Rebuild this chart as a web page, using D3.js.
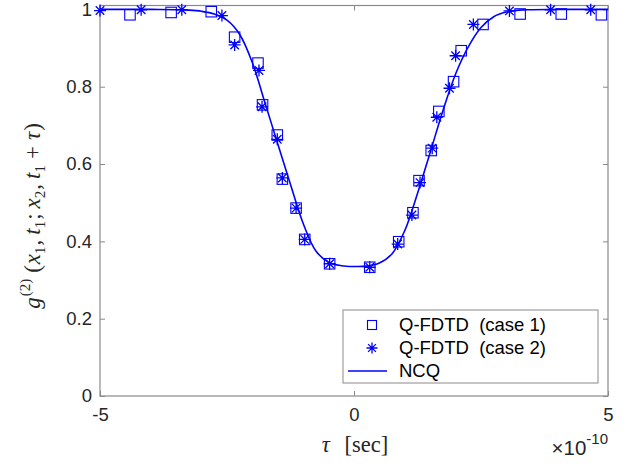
<!DOCTYPE html>
<html><head><meta charset="utf-8">
<script src="https://cdn.jsdelivr.net/npm/d3@7"></script>
<style>body{margin:0;background:#fff} svg{display:block}</style>
</head><body><svg id="c" width="638" height="470"></svg>
<script>
// ---- data (tau in units of 1e-10 s) ----
const case1Tau = [-4.41,-3.60,-2.81,-2.35,-1.89,-1.80,-1.51,-1.41,-1.14,-0.97,-0.48,0.31,0.88,1.16,1.28,1.52,1.67,1.96,2.11,2.54,3.27,4.08,4.87];
const case1G2  = [0.986,0.992,0.994,0.928,0.861,0.753,0.675,0.561,0.486,0.405,0.342,0.333,0.399,0.474,0.557,0.635,0.736,0.813,0.893,0.961,0.988,0.988,0.986];
const case2Tau = [-5.00,-4.19,-3.39,-2.60,-2.35,-1.87,-1.81,-1.51,-1.41,-1.14,-0.97,-0.48,0.31,0.86,1.14,1.30,1.54,1.63,1.88,2.00,2.35,3.06,3.87,4.66];
const case2G2  = [0.997,0.999,0.999,0.984,0.908,0.842,0.748,0.664,0.564,0.486,0.405,0.342,0.333,0.393,0.468,0.552,0.641,0.721,0.796,0.880,0.961,0.996,0.999,0.999];
const ncqTau = [-5,-4.5,-4,-3.5,-3.25,-3,-2.75,-2.5,-2.25,-2,-1.75,-1.5,-1.25,-1,-0.75,-0.5,-0.25,0,0.25,0.5,0.75,1,1.25,1.5,1.75,2,2.25,2.5,2.75,3,3.25,3.5,4,4.5,5];
const ncqG2  = [1,1,1,0.999,0.998,0.995,0.988,0.972,0.935,0.862,0.757,0.652,0.547,0.446,0.375,0.346,0.337,0.335,0.336,0.344,0.368,0.428,0.524,0.630,0.738,0.833,0.903,0.953,0.981,0.993,0.998,0.999,1,1,1];
const xTicks = [-5,0,5];
const xTickLabels = ["-5","0","5"];
const yTicks = [0,0.2,0.4,0.6,0.8,1];
const yTickLabels = ["0","0.2","0.4","0.6","0.8","1"];
const legendLabels = ["Q-FDTD  (case 1)","Q-FDTD  (case 2)","NCQ"];

const svg = d3.select("#c");
const L=100,R=608,T=5.5,B=396;
const x = d3.scaleLinear().domain([-5,5]).range([L,R]);
const y = d3.scaleLinear().domain([0,1.01]).range([B,T]);
const blue = "#0000ff", axCol = "#262626", boxCol = "#8a8a8a";
const font = "'Liberation Sans', Arial, sans-serif";
const serif = "'Liberation Serif', 'DejaVu Serif', serif";
const fs = 18.5;

function styleAxis(g){
  g.select(".domain").remove();
  g.selectAll(".tick line").attr("stroke",boxCol).attr("stroke-width",1);
  g.selectAll(".tick text").attr("fill",axCol).style("font-family",font).style("font-size",fs+"px");
}
svg.append("g").attr("transform",`translate(0,${B})`)
  .call(d3.axisBottom(x).tickValues(xTicks).tickFormat((d,i)=>xTickLabels[i]).tickSize(-5).tickPadding(12)).call(styleAxis);
svg.append("g").attr("transform",`translate(0,${T})`)
  .call(d3.axisTop(x).tickValues(xTicks).tickFormat("").tickSize(-5)).call(styleAxis);
svg.append("g").attr("transform",`translate(${L},0)`)
  .call(d3.axisLeft(y).tickValues(yTicks).tickFormat((d,i)=>yTickLabels[i]).tickSize(-5).tickPadding(8)).call(styleAxis);
svg.append("g").attr("transform",`translate(${R},0)`)
  .call(d3.axisRight(y).tickValues(yTicks).tickFormat("").tickSize(-5)).call(styleAxis);
svg.append("rect").attr("x",L).attr("y",T).attr("width",R-L).attr("height",B-T)
  .attr("fill","none").attr("stroke",boxCol).attr("stroke-width",1.2);

// multiplier
const mt = svg.append("text").attr("x",R).attr("y",455).attr("text-anchor","end")
  .attr("fill",axCol).style("font-family",font).style("font-size","20.5px");
mt.append("tspan").text("×10");
mt.append("tspan").attr("dy",-11).style("font-size","15px").text("-10");

// x label
const xl = svg.append("text").attr("x",355).attr("y",452).attr("text-anchor","middle")
  .attr("fill",axCol).style("font-family",serif).style("font-size","22.5px");
xl.append("tspan").style("font-style","italic").text("τ");
xl.append("tspan").attr("dx",9).text(" [sec]");

// y label
const yl = svg.append("text").attr("transform","translate(40,216) rotate(-90)").attr("text-anchor","middle")
  .attr("fill",axCol).style("font-family",serif).style("font-size","23px");
// [text, dy, italic?, size, dx]
const parts = [
  ["g",0,"i",23,0],["(2)",-10,"n",15,1],["(",10,"n",23,6],["x",0,"i",23,1],["1",5,"n",15,0],[",",-5,"n",23,1],["t",0,"i",23,5],["1",5,"n",15,0],
  [";",-5,"n",23,1],["x",0,"i",23,5],["2",5,"n",15,0],[",",-5,"n",23,1],["t",0,"i",23,5],["1",5,"n",15,0],["+",-5,"n",23,6],["τ",0,"i",23,6],[")",0,"n",23,1]
];
parts.forEach(p=>{
  yl.append("tspan").attr("dy",p[1]).attr("dx",p[4]).style("font-style",p[2]==="i"?"italic":"normal").style("font-size",p[3]+"px").text(p[0]);
});

// NCQ line
const line = d3.line().x((d,i)=>x(ncqTau[i])).y((d,i)=>y(ncqG2[i])).curve(d3.curveCatmullRom.alpha(0.5));
svg.append("path").attr("d",line(ncqG2)).attr("fill","none").attr("stroke",blue).attr("stroke-width",1.6);

// markers
const sq = 10.5;
function star(r){ const d=r*0.7071; return `M0,${-r}L0,${r}M${-r},0L${r},0M${-d},${-d}L${d},${d}M${-d},${d}L${d},${-d}`; }
svg.append("g").selectAll("rect").data(case1G2).join("rect")
  .attr("x",(d,i)=>x(case1Tau[i])-sq/2).attr("y",d=>y(d)-sq/2).attr("width",sq).attr("height",sq)
  .attr("fill","none").attr("stroke",blue).attr("stroke-width",1.1);
svg.append("g").selectAll("path").data(case2G2).join("path")
  .attr("transform",(d,i)=>`translate(${x(case2Tau[i])},${y(d)})`).attr("d",star(6))
  .attr("fill","none").attr("stroke",blue).attr("stroke-width",1.3);

// legend
const lg = svg.append("g");
lg.append("rect").attr("x",343).attr("y",310).attr("width",255).attr("height",73)
  .attr("fill","#fff").attr("stroke",boxCol).attr("stroke-width",1);
const rows=[325,348,371];
lg.append("rect").attr("x",372-4.5).attr("y",rows[0]-4.5).attr("width",9).attr("height",9).attr("fill","none").attr("stroke",blue).attr("stroke-width",1.1);
lg.append("path").attr("transform",`translate(372,${rows[1]})`).attr("d",star(5.5)).attr("fill","none").attr("stroke",blue).attr("stroke-width",1.3);
lg.append("line").attr("x1",348).attr("x2",387).attr("y1",rows[2]).attr("y2",rows[2]).attr("stroke",blue).attr("stroke-width",1.6);
legendLabels.forEach((t,i)=>{
  lg.append("text").attr("x",399).attr("y",rows[i]).attr("dy","0.35em").attr("fill","#000")
    .style("font-family",font).style("font-size",fs+"px").style("white-space","pre").text(t);
});
</script></body></html>
